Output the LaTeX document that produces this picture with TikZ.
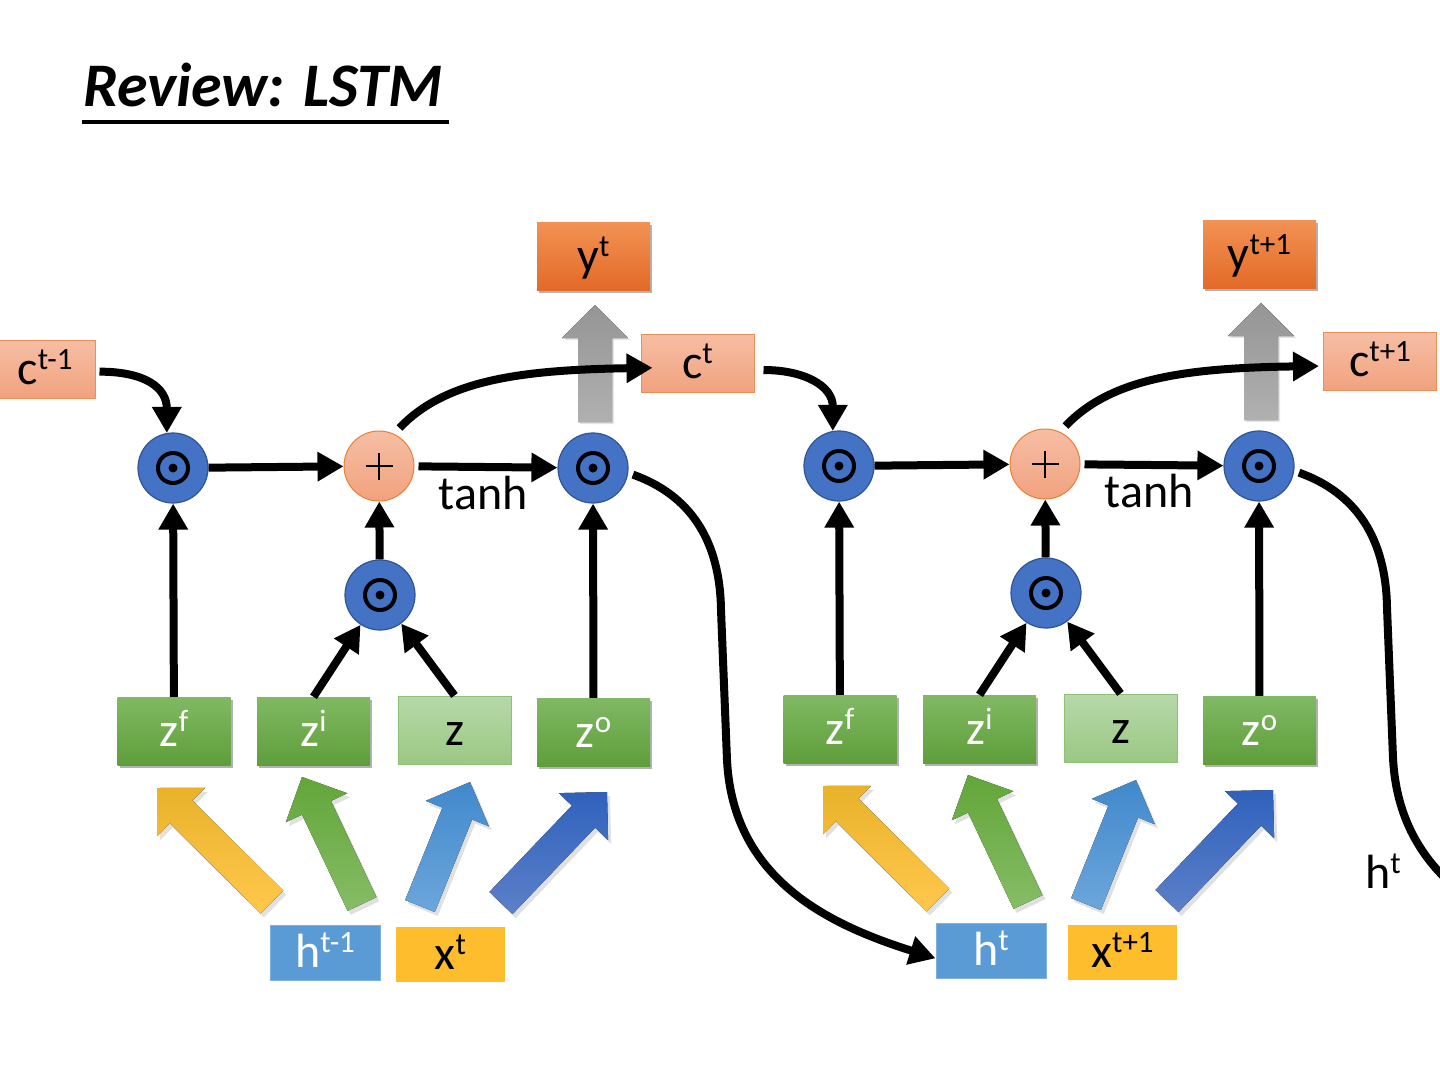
\documentclass[tikz,border=0pt]{standalone}
\usepackage{fontspec}
\setmainfont{Carlito}
\usetikzlibrary{arrows.meta,calc,shadows}

\definecolor{odotblue}{HTML}{4472C4}
\definecolor{odotedge}{HTML}{2F5597}
\definecolor{salmonT}{HTML}{F6BEA5}
\definecolor{salmonB}{HTML}{F1A27E}
\definecolor{salmonEdge}{HTML}{F08C55}
\definecolor{plusEdge}{HTML}{ED7D31}
\definecolor{gateT}{HTML}{80B963}
\definecolor{gateB}{HTML}{5F9E3B}
\definecolor{inT}{HTML}{B7D8A9}
\definecolor{inB}{HTML}{9BC884}
\definecolor{inEdge}{HTML}{8CC274}
\definecolor{yT}{HTML}{F29254}
\definecolor{yB}{HTML}{E36A27}
\definecolor{hblue}{HTML}{5B9BD5}
\definecolor{hedge}{HTML}{7DB0DE}
\definecolor{xgold}{HTML}{FDBD2D}
\definecolor{greyT}{HTML}{959595}
\definecolor{greyB}{HTML}{B0B0B0}
\definecolor{yelT}{HTML}{E9B22A}
\definecolor{yelB}{HTML}{FFC84D}
\definecolor{grnT}{HTML}{62A639}
\definecolor{grnB}{HTML}{86BC66}
\definecolor{lbT}{HTML}{4189CC}
\definecolor{lbB}{HTML}{6CA6DB}
\definecolor{dbT}{HTML}{2F62BC}
\definecolor{dbB}{HTML}{5D80C9}

\newcommand\lblfont{\fontsize{48}{56}\selectfont}
\newcommand\ttlfont{\fontsize{62}{74}\selectfont\bfseries\itshape}
\newcommand\upix[1]{\raisebox{15pt}{\fontsize{31}{33}\selectfont #1}}

% polygon of a fat arrow: tail, tip, head-base centre, options
\newcommand\fatpolyfill[4]{%
  \fill[#4] ($(#1)!16pt!90:(#2)$) -- ($(#3)!16pt!-90:(#1)$) -- ($(#3)!34pt!-90:(#1)$)
    -- (#2) -- ($(#3)!34pt!90:(#1)$) -- ($(#3)!16pt!90:(#1)$) -- ($(#1)!16pt!-90:(#2)$) -- cycle;}
\newcommand\fatarrow[4]{% tail, tip, top colour, bottom colour
  \coordinate (fs1) at ($#1+(3,4)$);
  \coordinate (fs2) at ($#2+(3,4)$);
  \coordinate (fsb) at ($(fs2)!34pt!(fs1)$);
  \fatpolyfill{fs1}{fs2}{fsb}{black,opacity=0.12}
  \coordinate (fa1) at #1;
  \coordinate (fa2) at #2;
  \coordinate (fab) at ($(fa2)!34pt!(fa1)$);
  \fatpolyfill{fa1}{fa2}{fab}{top color=#3,bottom color=#4}}

\tikzset{
  box/.style={rectangle, minimum width=113pt, minimum height=68pt, inner sep=0pt,
    text height=37pt, text depth=7pt, font=\lblfont},
  gate/.style={box, top color=gateT, bottom color=gateB, text=white,
    drop shadow={shadow xshift=2pt, shadow yshift=-3pt, opacity=0.3, fill=black}},
  zin/.style={box, top color=inT, bottom color=inB, draw=inEdge, line width=1pt, text=black},
  ybox/.style={box, top color=yT, bottom color=yB, text=black,
    drop shadow={shadow xshift=2pt, shadow yshift=-3pt, opacity=0.3, fill=black}},
  cbox/.style={box, minimum height=58pt, top color=salmonT, bottom color=salmonB,
    draw=salmonEdge, line width=1pt, text=black},
  hbox/.style={box, minimum width=110pt, minimum height=55pt, fill=hblue, draw=hedge,
    line width=1pt, text=white},
  xbox/.style={box, minimum width=109pt, minimum height=55pt, fill=xgold, text=black},
  odot/.style={circle, minimum size=70pt, inner sep=0pt, fill=odotblue, draw=odotedge,
    line width=1.2pt,
    path picture={\draw[line width=4pt, black] (path picture bounding box.center) circle[radius=15pt];
      \fill[black] (path picture bounding box.center) circle[radius=4.5pt];}},
  plusc/.style={circle, minimum size=70pt, inner sep=0pt, top color=salmonT,
    bottom color=salmonB, draw=plusEdge, line width=1pt,
    path picture={\draw[line width=1.6pt, black]
      (path picture bounding box.center) ++(-13.5pt,0) -- ++(27pt,0)
      (path picture bounding box.center) ++(0,-13.5pt) -- ++(0,27pt);}},
  conn/.style={line width=8pt, -{Triangle[length=26pt,width=28pt]}},
  plain/.style={font=\lblfont, inner sep=0pt}
}

% one LSTM cell: #1 y superscript, #2 h superscript, #3 x superscript, #4 extra x shift of x box
\newcommand\lstmcell[4]{%
  % grey output arrow
  \fill[black,opacity=0.1] (580,424) -- (580,340) -- (564,340) -- (597,307) -- (630,340) -- (614,340) -- (614,424) -- cycle;
  \fill[top color=greyT, bottom color=greyB] (578,422) -- (578,338) -- (562,338) -- (595,305)
    -- (628,338) -- (612,338) -- (612,422) -- cycle;
  % fat input arrows
  \fatarrow{(272,902)}{(157,788)}{yelT}{yelB}
  \fatarrow{(362,904)}{(302,777)}{grnT}{grnB}
  \fatarrow{(420,906)}{(470,782)}{lbT}{lbB}
  \fatarrow{(501,903)}{(607,792)}{dbT}{dbB}
  % nodes
  \node[odot] (f) at (173,468) {};
  \node[plusc] (p) at (379,466) {};
  \node[odot] (o) at (593,468) {};
  \node[odot] (g) at (380,595) {};
  \node[gate] (zf) at (174,731) {z\upix{f}};
  \node[gate] (zi) at (313.5,731) {z\upix{i}};
  \node[zin] (z) at (454.5,730) {z};
  \node[gate] (zo) at (593.5,732) {z\upix{o}};
  \node[ybox] (y) at (593.5,256) {y\upix{#1}};
  \node[hbox] (h) at (325,952.5) {h\upix{#2}};
  \node[xbox, xshift=#4] (x) at (450.5,954.5) {x\upix{#3}};
  \node[plain] (tanh) at (483,493) {tanh};
  % connectors
  \draw[conn] (zf) -- (f);
  \draw[conn] (zi.north) -- (g);
  \draw[conn] (z.north) -- (g);
  \draw[conn] (zo) -- (o);
  \draw[conn] (g) -- (p);
  \draw[conn] (f) -- (p);
  \draw[conn, shorten <=4pt] (p) -- (o);
}

\begin{document}
\begin{tikzpicture}[x=1pt, y=-1pt]
  \useasboundingbox (0,0) rectangle (1440,1080);
  \fill[white] (0,0) rectangle (1440,1080);
  \clip (0,0) rectangle (1440,1080);

  % title
  \node[anchor=base west, inner sep=0pt, font=\ttlfont] (title) at (83,106) {Review: LSTM};
  \fill[black] (82,120) rectangle (449,124);

  \begin{scope}[name prefix=A-]
    \lstmcell{t}{t-1}{t}{0pt}
  \end{scope}
  \begin{scope}[shift={(666,-2)}, name prefix=B-]
    \lstmcell{t+1}{t}{t+1}{6pt}
  \end{scope}

  % cell states
  \node[cbox, minimum width=100pt] (c0) at (45,369) {c\upix{t-1}};
  \node[cbox] (c1) at (697.5,363) {c\upix{t}};
  \node[cbox] (c2) at (1380,361) {c\upix{t+1}};

  \draw[conn, shorten <=4pt] (c0.-3) .. controls +(50,0) and +(0,-45) .. (A-f.100);
  \draw[conn, shorten <=8pt, shorten >=-12pt] (A-p.65) .. controls (445,380) and (520,370) .. (c1.185);
  \draw[conn, shorten <=9pt] (c1.-7) .. controls +(50,0) and +(0,-45) .. (B-f.100);
  \draw[conn, shorten <=8pt, shorten >=4pt] (B-p.65) .. controls (1111,378) and (1186,368) .. (c2.185);

  % hidden state paths
  \draw[conn, shorten <=5pt] (A-o.-8) .. controls (690,495) and (720,540) .. (721,610)
    -- (727,760) .. controls (733,880) and (830,925) .. (B-h.188);
  \coordinate (hout) at (1599,956);
  \draw[conn, shorten <=5pt] (B-o.-8) .. controls (1356,493) and (1386,538) .. (1387,608)
    -- (1393,758) .. controls (1399,878) and (1496,923) .. (hout);
  \node[plain] (hlabel) at (1383,871) {h\upix{t}};
\end{tikzpicture}
\end{document}
